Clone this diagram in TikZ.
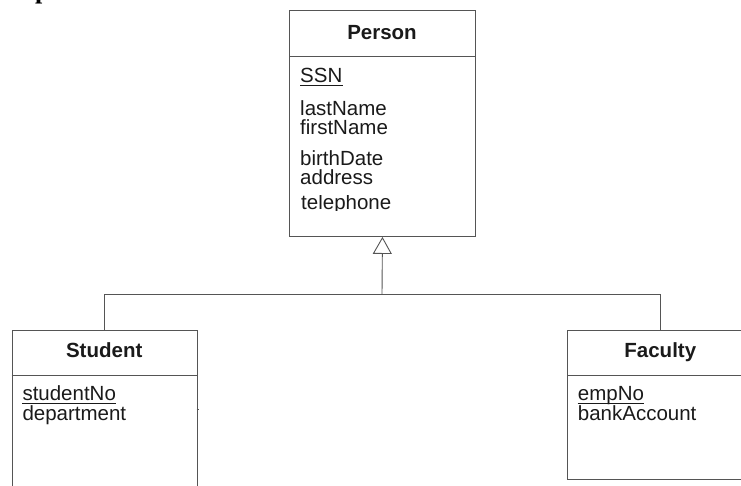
\documentclass[tikz,border=0pt]{standalone}
\usepackage{fontspec}
\setmainfont{Liberation Sans}
\newfontfamily\serifbold{Liberation Serif}
\usetikzlibrary{arrows.meta}
\definecolor{lineg}{HTML}{555555}
\definecolor{txt}{HTML}{1A1A1A}
\tikzset{
  umlbox/.style={draw=lineg, line width=0.9pt, fill=none, inner sep=0pt, anchor=north west},
  divline/.style={draw=lineg, line width=0.9pt},
  conn/.style={draw=lineg, line width=0.9pt},
  uline/.style={draw=txt, line width=0.9pt},
  ttl/.style={font=\fontsize{20.5}{22}\selectfont\bfseries, text=txt, anchor=base, inner sep=0pt},
  attr/.style={font=\fontsize{20.5}{22}\selectfont, text=txt, anchor=base west, inner sep=0pt},
}
\begin{document}
\begin{tikzpicture}[x=1pt,y=-1pt]
\clip (0,0) rectangle (741,485);
\useasboundingbox (0,0) rectangle (741,485);
% cut heading fragment
\begin{scope}
\clip (30,0) rectangle (60,6);
\node[anchor=base west, inner sep=0pt, font=\fontsize{26}{28}\selectfont\serifbold\bfseries, text=black] (frag) at (35,-1.5) {p};
\end{scope}
% Person
\node[umlbox, minimum width=186pt, minimum height=226pt] (person) at (289,10) {};
\draw[divline] (289,56) coordinate (pdl) -- (475,56) coordinate (pdr);
\node[ttl] (ptitle) at (382,39) {Person};
\node[attr] (ssn) at (300,82.5) {SSN};
\draw[uline] ([yshift=-2.5pt]ssn.base west) -- ([yshift=-2.5pt]ssn.base east);
\node[attr] (lastname) at (300,115) {lastName};
\node[attr] (firstname) at (300,134) {firstName};
\node[attr] (birthdate) at (300,165.5) {birthDate};
\node[attr] (address) at (300,184.5) {address};
\begin{scope}
\clip (290,195) rectangle (474,210.5);
\node[attr] (telephone) at (301,209) {telephone};
\end{scope}
% Student
\node[umlbox, minimum width=185pt, minimum height=170pt] (student) at (11.7,329.5) {};
\draw[divline] (11.7,375.7) -- (196.7,375.7);
\node[ttl] (stitle) at (104.2,357) {Student};
\node[attr] (studentno) at (22.3,400.5) {studentNo};
\draw[uline] ([yshift=-2.5pt]studentno.base west) -- ([yshift=-2.5pt]studentno.base east);
\node[attr] (department) at (22.3,420) {department};
\draw[conn] (196.7,409) -- (199,409);
% Faculty
\node[umlbox, minimum width=186pt, minimum height=149.5pt] (faculty) at (567.3,329.5) {};
\draw[divline] (567.3,375.7) -- (753.3,375.7);
\node[ttl] (ftitle) at (660.3,357) {Faculty};
\node[attr] (empno) at (577.7,400.5) {empNo};
\draw[uline] ([yshift=-2.5pt]empno.base west) -- ([yshift=-2.5pt]empno.base east);
\node[attr] (bankaccount) at (577.7,420) {bankAccount};
% generalization
\coordinate (hub) at (382,294.3);
\draw[conn] (student.north) |- (hub) -| (faculty.north);
\draw[conn, -{Triangle[open, length=17pt, width=19pt, line width=0.9pt]}] (hub) -- (person.south);
\end{tikzpicture}
\end{document}
